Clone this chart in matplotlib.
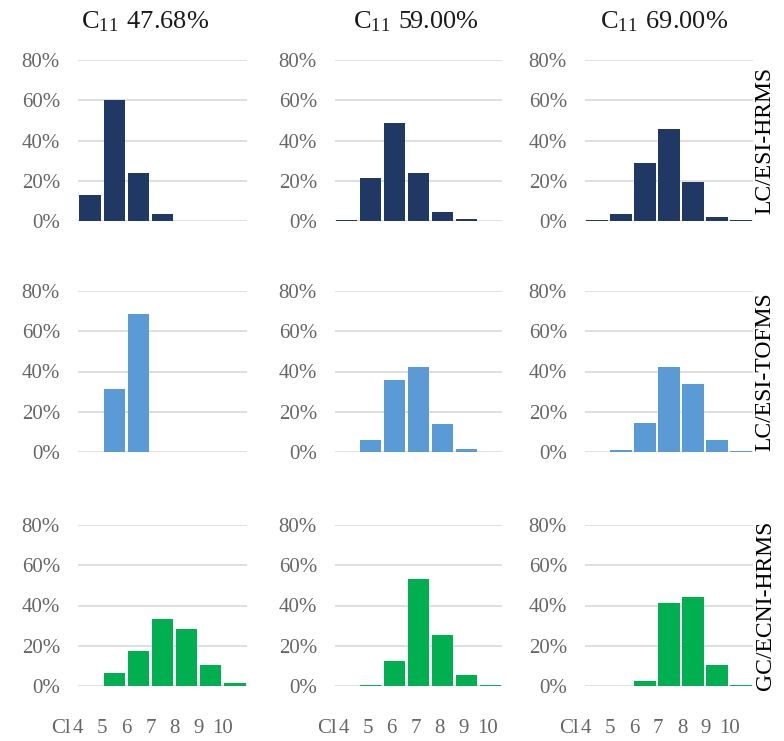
import matplotlib
matplotlib.use("Agg")
import matplotlib.pyplot as plt
from matplotlib.ticker import FuncFormatter, FixedLocator
import matplotlib.transforms as mtrans

plt.rcParams['font.family'] = ['Liberation Serif', 'DejaVu Serif']
plt.rcParams['mathtext.fontset'] = 'custom'
plt.rcParams['mathtext.rm'] = 'Liberation Serif'
plt.rcParams['mathtext.it'] = 'Liberation Serif:italic'

categories = ["4", "5", "6", "7", "8", "9", "10"]
axis_prefix = "Cl"
column_titles = ["C$_{11}$\u200a 47.68%", "C$_{11}$\u200a 59.00%", "C$_{11}$\u200a 69.00%"]
row_labels = ["LC/ESI-HRMS", "LC/ESI-TOFMS", "GC/ECNI-HRMS"]
row_colors = ["#1f3864", "#5b9bd5", "#00b050"]

# values in %, per method (row) and chlorine content (column)
hrms_4768 = [13.0, 60.0, 24.0, 3.5, 0.0, 0.0, 0.0]
hrms_5900 = [0.7, 21.5, 48.5, 24.0, 4.5, 1.0, 0.0]
hrms_6900 = [0.5, 3.5, 29.0, 45.5, 19.5, 2.0, 0.5]
tof_4768 = [0.0, 31.5, 68.5, 0.0, 0.0, 0.0, 0.0]
tof_5900 = [0.0, 6.0, 36.0, 42.0, 14.0, 1.3, 0.0]
tof_6900 = [0.0, 1.0, 14.5, 42.0, 34.0, 6.0, 0.3]
gc_4768 = [0.0, 6.5, 17.5, 33.5, 28.5, 10.5, 1.7]
gc_5900 = [0.0, 0.3, 12.5, 53.0, 25.5, 5.5, 0.3]
gc_6900 = [0.0, 0.0, 2.3, 41.0, 44.0, 10.5, 0.3]

data = [[hrms_4768, hrms_5900, hrms_6900],
        [tof_4768, tof_5900, tof_6900],
        [gc_4768, gc_5900, gc_6900]]

W, H = 784, 741
fig = plt.figure(figsize=(W / 100, H / 100), dpi=100)

col_x = [(78, 247), (335, 502), (585, 753)]
row_y = [(60, 221), (291, 452), (525, 686)]
title_cx = [145, 416, 664]
label_shift = [-12, -3, -11]   # px shift of the x labels
grey = "#666666"
xpad_pt = 24

for r in range(3):
    for c in range(3):
        x0, x1 = col_x[c]
        y0, y1 = row_y[r]
        ax = fig.add_axes([x0 / W, 1 - y1 / H, (x1 - x0) / W, (y1 - y0) / H])
        xs = list(range(len(categories)))
        vals = [v / 100 for v in data[r][c]]
        ax.bar(xs, vals, width=0.88, color=row_colors[r], zorder=3)
        ax.set_xlim(-0.5, len(categories) - 0.5)
        ax.set_ylim(0, 0.8)
        ax.yaxis.set_major_locator(FixedLocator([0, 0.2, 0.4, 0.6, 0.8]))
        ax.yaxis.set_major_formatter(FuncFormatter(lambda v, p: f"{v*100:.0f}%"))
        ax.grid(axis='y', color='#d9d9d9', linewidth=1.2, zorder=0)
        ax.set_axisbelow(True)
        for s in ax.spines.values():
            s.set_visible(False)
        ax.tick_params(axis='y', length=0, pad=13, labelsize=15, labelcolor=grey)
        if r == 2:
            ax.set_xticks(xs)
            ax.set_xticklabels(categories)
            ax.tick_params(axis='x', length=0, pad=xpad_pt, labelsize=15, labelcolor=grey)
            off = mtrans.ScaledTranslation(label_shift[c] / 100, 0, fig.dpi_scale_trans)
            for lab in ax.get_xticklabels():
                lab.set_transform(lab.get_transform() + off)
            ax.annotate(axis_prefix, xy=(0, 0), xycoords=('data', 'axes fraction'),
                        xytext=((label_shift[c] - 7) * 0.72, -xpad_pt), textcoords='offset points',
                        ha='right', va='top', fontsize=15, color=grey, annotation_clip=False)
        else:
            ax.set_xticks([])
        ax.patch.set_alpha(0)

for c in range(3):
    fig.text(title_cx[c] / W, 1 - 28 / H, column_titles[c], ha='center', va='baseline',
             fontsize=19, color='#1a1a1a')

for r in range(3):
    y0, y1 = row_y[r]
    fig.text(765 / W, 1 - (y0 + y1) / 2 / H, row_labels[r], rotation=90,
             ha='center', va='center', fontsize=17, color='black')

fig.savefig("out.png", dpi=100, facecolor='white')
